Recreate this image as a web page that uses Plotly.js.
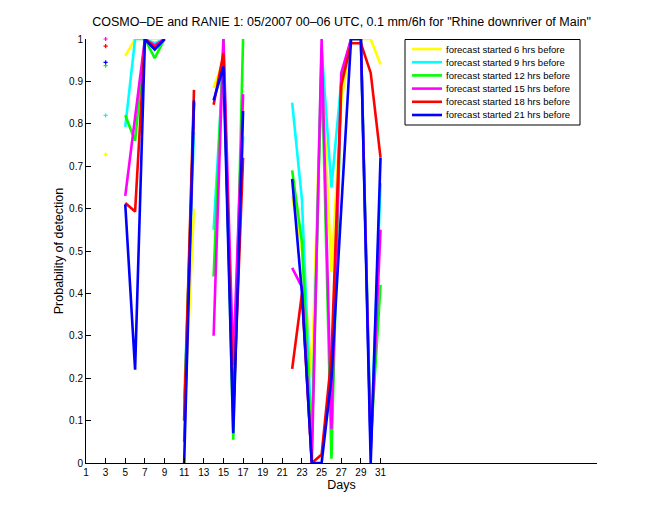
<!DOCTYPE html>
<html><head><meta charset="utf-8">
<script src="https://cdn.plot.ly/plotly-3.0.1.min.js"></script>
<style>body{margin:0;background:#fff}</style>
</head><body>
<div id="chart" style="width:660px;height:520px"></div>
<script>
// ---- data ----
const days = [1,2,3,4,5,6,7,8,9,10,11,12,13,14,15,16,17,18,19,20,21,22,23,24,25,26,27,28,29,30,31];
const xTickVals = [1,3,5,7,9,11,13,15,17,19,21,23,25,27,29,31];
const yTickVals = [0,0.1,0.2,0.3,0.4,0.5,0.6,0.7,0.8,0.9,1];
const seriesNames = ["forecast started 6 hrs before","forecast started 9 hrs before","forecast started 12 hrs before","forecast started 15 hrs before","forecast started 18 hrs before","forecast started 21 hrs before"];
//            1    2    3     4    5     6     7    8     9    10   11    12   13   14    15    16    17   18   19   20   21   22    23    24    25    26    27    28    29    30    31
const fc06 = [null,null,0.728,null,0.96, 1.0,  1.0, 1.0,  1.0, null,0.10, 0.60,null,0.885,0.95, 0.20, 0.85,null,null,null,null,0.63, 0.50, 0.20, 0.95, 0.45, 0.85, 1.0,  1.0,  1.0,  0.94];
const fc09 = [null,null,0.82, null,0.793,1.0,  1.0, 0.99, 1.0, null,0.15, 0.78,null,0.55, 0.95, 0.12, 0.77,null,null,null,null,0.85, 0.62, 0.05, 0.98, 0.65, 0.90, 1.0,  1.0,  0.03, 0.66];
const fc12 = [null,null,0.937,null,0.82, 0.76, 1.0, 0.955,1.0, null,0.10, 0.85,null,0.44, 1.0,  0.055,1.0, null,null,null,null,0.69, 0.52, 0.03, 0.95, 0.01, 0.90, 1.0,  1.0,  0.05, 0.42];
const fc15 = [null,null,1.0,  null,0.63, 0.82, 1.0, 0.985,1.0, null,0.05, 0.85,null,0.30, 1.0,  0.23, 0.87,null,null,null,null,0.46, 0.415,0.0,  1.0,  0.08, 0.92, 1.0,  1.0,  0.03, 0.55];
const fc18 = [null,null,0.983,null,0.613,0.593,1.0, 0.98, 1.0, null,0.10, 0.88,null,0.845,0.967,0.12, 0.72,null,null,null,null,0.222,0.40, 0.0,  0.02, 0.25, 0.89, 0.99, 0.99, 0.92, 0.72];
const fc21 = [null,null,0.945,null,0.61, 0.22, 1.0, 0.975,1.0, null,0.0,  0.855,null,0.855,0.935,0.07, 0.83,null,null,null,null,0.67, 0.40, 0.0,  0.0,  0.2,  0.6,  1.0,  1.0,  0.0,  0.72];
const allSeries = [fc06, fc09, fc12, fc15, fc18, fc21];

// ---- styling ----
const colors = ['#ffff00','#00ffff','#00ff00','#ff00ff','#ff0000','#0000ff'];
const FONT = 'Liberation Sans, Arial, Helvetica, sans-serif';
const W = 660, H = 520, ML = 86, MR = 63, MT = 39, MB = 57;
const PW = W - ML - MR, PH = H - MT - MB;
const px = p => (p - ML) / PW;
const py = p => (H - MB - p) / PH;

const traces = [];
allSeries.forEach((s, i) => {
  traces.push({x: days, y: s, type: 'scatter', mode: 'lines', name: seriesNames[i],
    line: {color: colors[i], width: 2.6}, connectgaps: false, showlegend: false, hoverinfo: 'skip'});
});
// isolated points (no neighbours) drawn as small markers, as MATLAB does
allSeries.forEach((s, i) => {
  const xs = [], ys = [];
  s.forEach((v, k) => {
    if (v !== null && (k === 0 || s[k-1] === null) && (k === s.length-1 || s[k+1] === null)) { xs.push(days[k]); ys.push(v); }
  });
  traces.push({x: xs, y: ys, type: 'scatter', mode: 'markers', showlegend: false, hoverinfo: 'skip',
    marker: {color: colors[i], size: 3, symbol: 'cross-thin', line: {color: colors[i], width: 1.2}}, cliponaxis: false});
});

// custom legend (MATLAB-style compact box)
const shapes = [{type: 'rect', xref: 'paper', yref: 'paper', x0: px(405), x1: px(580), y0: py(125), y1: py(39.5),
  line: {color: '#000', width: 1}, fillcolor: '#fff', layer: 'above'}];
const annotations = [];
seriesNames.forEach((n, i) => {
  const yc = 49 + i * 13.2;
  shapes.push({type: 'line', xref: 'paper', yref: 'paper', x0: px(412), x1: px(442), y0: py(yc), y1: py(yc),
    line: {color: colors[i], width: 2.6}, layer: 'above'});
  annotations.push({xref: 'paper', yref: 'paper', x: px(444), y: py(yc), xanchor: 'left', yanchor: 'middle',
    text: n, showarrow: false, font: {family: FONT, size: 9.5, color: '#000'}});
});

const layout = {
  width: W, height: H,
  margin: {l: ML, r: MR, t: MT, b: MB, pad: 0},
  paper_bgcolor: '#fff', plot_bgcolor: '#fff',
  showlegend: false,
  title: {text: 'COSMO–DE and RANIE 1: 05/2007 00–06 UTC, 0.1 mm/6h for "Rhine downriver of Main"',
    font: {family: FONT, size: 12.5, color: '#000'}, x: (ML + PW/2)/W, xanchor: 'center', y: 1 - 22/H, yanchor: 'middle'},
  xaxis: {range: [1, 53.05], tickvals: xTickVals, ticktext: xTickVals.map(String), ticks: 'inside', ticklen: 5,
    tickcolor: '#000', showline: true, linecolor: '#000', linewidth: 1, showgrid: false, zeroline: false,
    tickfont: {family: FONT, size: 10, color: '#000'},
    title: {text: 'Days', font: {family: FONT, size: 12.5, color: '#000'}, standoff: 3}},
  yaxis: {range: [0, 1], tickvals: yTickVals, ticktext: yTickVals.map(v => String(Math.round(v*10)/10)), ticks: 'inside', ticklen: 5,
    tickcolor: '#000', showline: true, linecolor: '#000', linewidth: 1, showgrid: false, zeroline: false,
    tickfont: {family: FONT, size: 10, color: '#000'},
    title: {text: 'Probability of detection', font: {family: FONT, size: 12.5, color: '#000'}, standoff: 2}},
  shapes: shapes,
  annotations: annotations
};

Plotly.newPlot('chart', traces, layout, {displayModeBar: false, staticPlot: true});
</script>
</body></html>
